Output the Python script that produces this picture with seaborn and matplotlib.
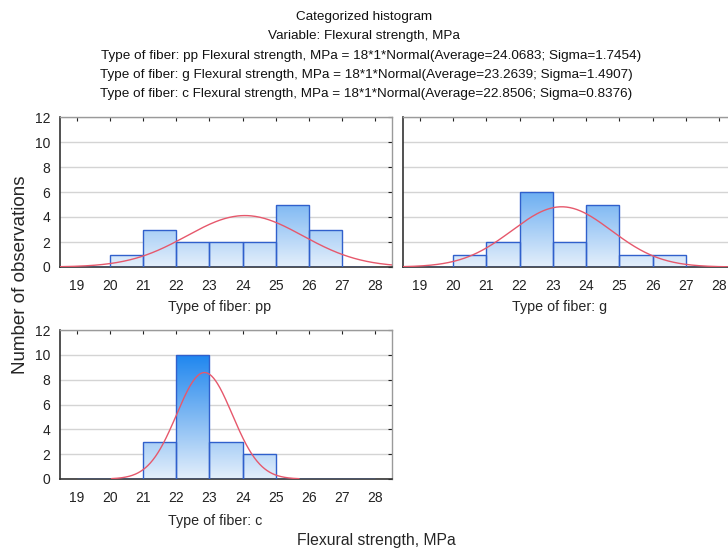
import numpy as np
import pandas as pd
import matplotlib
matplotlib.use("Agg")
import matplotlib.pyplot as plt
import seaborn as sns
from matplotlib.colors import LinearSegmentedColormap

sns.set_style("white")
plt.rcParams['font.family'] = ['Liberation Sans', 'DejaVu Sans']

# ---- data ----
bin_centers = [19.5, 20.5, 21.5, 22.5, 23.5, 24.5, 25.5, 26.5, 27.5]
counts_pp = [0, 1, 3, 2, 2, 2, 5, 3, 0]
counts_g = [0, 1, 2, 6, 2, 5, 1, 1, 0]
counts_c = [0, 0, 3, 10, 3, 2, 0, 0, 0]
fibers = ["pp", "g", "c"]
averages = [24.0683, 23.2639, 22.8506]
sigmas = [1.7454, 1.4907, 0.8376]
n_obs = 18
curve_ranges = [(18.5, 28.5), (18.5, 28.5), (20.05, 25.7)]
x_ticks = [19, 20, 21, 22, 23, 24, 25, 26, 27, 28]
y_ticks = [0, 2, 4, 6, 8, 10, 12]
bin_edges = [19, 20, 21, 22, 23, 24, 25, 26, 27, 28]

all_counts = [counts_pp, counts_g, counts_c]

fig = plt.figure(figsize=(7.28, 5.52), dpi=100)
W, H = 728, 552
def ax_at(l, t, r, b):
    return fig.add_axes([l / W, 1 - b / H, (r - l) / W, (b - t) / H])

axes = [ax_at(60, 117, 392, 267), ax_at(403, 117, 736, 267), ax_at(60, 330, 392, 479)]

cmap = LinearSegmentedColormap.from_list("bluegrad", ["#E4EFFB", "#80B9F3", "#1E86EF"])

for i, ax in enumerate(axes):
    df = pd.DataFrame({"x": bin_centers, "w": all_counts[i]})
    sns.histplot(data=df, x="x", weights="w", bins=bin_edges, ax=ax,
                 fill=True, facecolor="none", edgecolor="#3060CC", linewidth=1.0,
                 zorder=3)
    ax.set_xlim(18.5, 28.5)
    ax.set_ylim(0, 12)
    # gradient fill clipped to bars
    grad = np.linspace(0, 1, 256).reshape(-1, 1)
    for p in list(ax.patches):
        if p.get_height() <= 0:
            continue
        im = ax.imshow(grad, cmap=cmap, origin="lower", aspect="auto",
                       extent=(18.5, 28.5, 0, 10), vmin=0, vmax=1, zorder=2,
                       interpolation="bilinear")
        im.set_clip_path(p)
    ax.set_xlim(18.5, 28.5)
    ax.set_ylim(0, 12)
    # normal curve
    lo, hi = curve_ranges[i]
    xs = np.linspace(lo, hi, 300)
    ys = n_obs * 1 * np.exp(-0.5 * ((xs - averages[i]) / sigmas[i]) ** 2) / (sigmas[i] * np.sqrt(2 * np.pi))
    sns.lineplot(x=xs, y=ys, ax=ax, color="#E6586C", linewidth=1.0, zorder=4)
    ax.set_xticks(x_ticks)
    ax.set_yticks(y_ticks)
    ax.yaxis.grid(True, color="#D4D4D4", linewidth=1.0, zorder=0)
    ax.set_axisbelow(True)
    ax.tick_params(direction="in", length=3, top=True, right=True, labelsize=10,
                   colors="#222222", pad=7)
    ax.tick_params(axis="x", pad=9)
    for s in ["top", "right"]:
        ax.spines[s].set_color("#9A9A9A")
        ax.spines[s].set_linewidth(1.0)
    for s in ["left", "bottom"]:
        ax.spines[s].set_color("#333333")
        ax.spines[s].set_linewidth(1.2)
    ax.set_xlabel("")
    ax.set_ylabel("")
    if i == 1:
        ax.set_yticklabels([])

fig.text(220 / W, 1 - 307 / H, "Type of fiber: pp", ha="center", va="center", fontsize=10.3)
fig.text(560 / W, 1 - 307 / H, "Type of fiber: g", ha="center", va="center", fontsize=10.3)
fig.text(215 / W, 1 - 521 / H, "Type of fiber: c", ha="center", va="center", fontsize=10.3)

fig.text(21 / W, 1 - 275 / H, "Number of observations", rotation=90, ha="center",
         va="center", fontsize=13.5)
fig.text(376 / W, 1 - 541 / H, "Flexural strength, MPa", ha="center", va="center",
         fontsize=11.3)

title_lines = [
    (364, 17, "Categorized histogram"),
    (364, 36, "Variable: Flexural strength, MPa"),
    (371, 56, "Type of fiber: pp Flexural strength, MPa = 18*1*Normal(Average=24.0683; Sigma=1.7454)"),
    (366, 75, "Type of fiber: g Flexural strength, MPa = 18*1*Normal(Average=23.2639; Sigma=1.4907)"),
    (366, 94, "Type of fiber: c Flexural strength, MPa = 18*1*Normal(Average=22.8506; Sigma=0.8376)"),
]
for x, y, t in title_lines:
    fig.text(x / W, 1 - y / H, t, ha="center", va="center", fontsize=9.7, color="#111111")

fig.savefig("out.png", dpi=100)
